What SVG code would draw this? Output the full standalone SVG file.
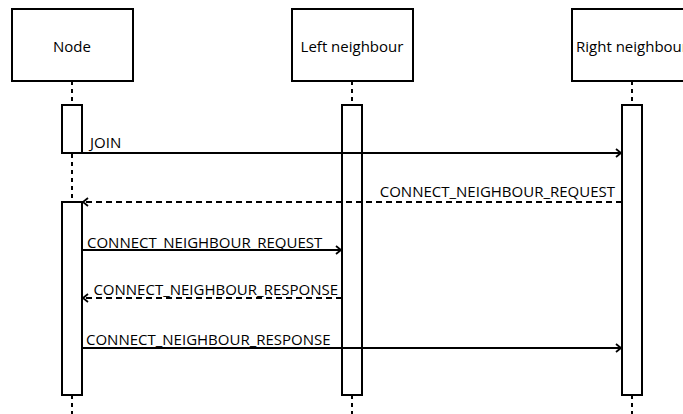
<svg xmlns="http://www.w3.org/2000/svg" width="683" height="414" viewBox="0 0 683 414">
<style>
.box{fill:#fff;stroke:#000;stroke-width:2}
.act{fill:#fff;stroke:#000;stroke-width:2}
.life{stroke:#000;stroke-width:2;stroke-dasharray:4 4;fill:none}
.msg{stroke:#000;stroke-width:2;fill:none}
.dash{stroke-dasharray:6 4}
.head{stroke:#000;stroke-width:1.8;fill:none}
text{font-family:"Open Sans","DejaVu Sans",sans-serif;font-size:15px;fill:#000}
.t{text-anchor:middle}
</style>
<rect width="683" height="414" fill="#fff"/>
<g id="lifelines">
<line class="life" x1="72" y1="81" x2="72" y2="105"/>
<line class="life" x1="72" y1="154" x2="72" y2="202"/>
<line class="life" x1="72" y1="395" x2="72" y2="414"/>
<line class="life" x1="352" y1="81" x2="352" y2="105"/>
<line class="life" x1="352" y1="395" x2="352" y2="414"/>
<line class="life" x1="632" y1="81" x2="632" y2="105"/>
<line class="life" x1="632" y1="395" x2="632" y2="414"/>
</g>
<g id="node">
<rect class="box" x="12" y="9" width="121" height="72"/>
<text class="t" x="72" y="52">Node</text>
<rect class="act" x="62" y="105" width="20" height="48"/>
<rect class="act" x="62" y="202" width="20" height="193"/>
</g>
<g id="left-neighbour">
<rect class="box" x="292" y="9" width="121" height="72"/>
<text class="t" x="352" y="52">Left neighbour</text>
<rect class="act" x="342" y="105" width="20" height="290"/>
</g>
<g id="right-neighbour">
<rect class="box" x="572" y="9" width="121" height="72"/>
<text class="t" x="632" y="52">Right neighbour</text>
<rect class="act" x="622" y="105" width="20" height="290"/>
</g>
<g id="connectors">
<line class="msg" x1="82" y1="153" x2="621" y2="153"/>
<path class="head" d="M616,149 L621,153 L616,157"/>
<text x="90" y="148">JOIN</text>
<line class="msg dash" x1="622" y1="202" x2="83" y2="202"/>
<path class="head" d="M88,198 L83,202 L88,206"/>
<text x="615" y="197" text-anchor="end">CONNECT_NEIGHBOUR_REQUEST</text>
<line class="msg" x1="82" y1="250" x2="341" y2="250"/>
<path class="head" d="M336,246 L341,250 L336,254"/>
<text x="87" y="248">CONNECT_NEIGHBOUR_REQUEST</text>
<line class="msg dash" x1="342" y1="298" x2="83" y2="298"/>
<path class="head" d="M88,294 L83,298 L88,302"/>
<text x="338" y="295" text-anchor="end">CONNECT_NEIGHBOUR_RESPONSE</text>
<line class="msg" x1="82" y1="348" x2="621" y2="348"/>
<path class="head" d="M616,344 L621,348 L616,352"/>
<text x="86" y="345">CONNECT_NEIGHBOUR_RESPONSE</text>
</g>
</svg>
